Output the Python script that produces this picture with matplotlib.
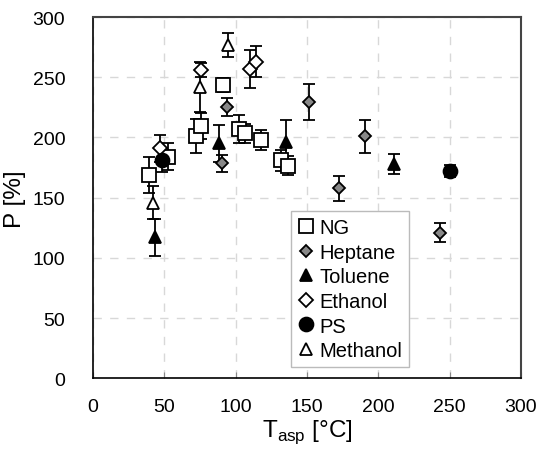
import matplotlib
matplotlib.use("Agg")

import matplotlib.pyplot as plt

plt.rcParams["font.family"] = ["Liberation Sans", "DejaVu Sans"]

# data
ng_x = [39.5, 52.3, 72.4, 75.7, 90.9, 102.5, 106.5, 117.7, 131.7, 136.4]
ng_y = [169, 184, 201, 209.7, 243.6, 207, 203.4, 197.8, 181, 176.5]
ng_err = [15, 11, 14, 11, 6, 12, 8, 8, 9, 8]

hep_x = [90.2, 93.9, 151.6, 172.2, 190.8, 243.2]
hep_y = [178.7, 225, 229.7, 157.7, 200.9, 121]
hep_err = [7, 7.5, 15, 10.5, 13.5, 8]

tol_x = [43.7, 88.5, 135.2, 210.7]
tol_y = [117, 195, 196.5, 178]
tol_err = [15, 15, 18, 8]

eth_x = [47, 75.7, 110.2, 114.2]
eth_y = [191, 256, 256.9, 263]
eth_err = [11, 6, 16, 13]

ps_x = [48.4, 250.4]
ps_y = [181.5, 171.8]
ps_err = [10, 5]

meth_x = [41.8, 75.3, 94.4]
meth_y = [146, 242, 276.8]
meth_err = [14, 21, 10]

series = [
    ("NG", ng_x, ng_y, ng_err, dict(marker="s", ms=9.5, mfc="white", mec="black")),
    ("Heptane", hep_x, hep_y, hep_err, dict(marker="D", ms=6.5, mfc="#888888", mec="black")),
    ("Toluene", tol_x, tol_y, tol_err, dict(marker="^", ms=8.5, mfc="black", mec="black")),
    ("Ethanol", eth_x, eth_y, eth_err, dict(marker="D", ms=7.5, mfc="white", mec="black")),
    ("PS", ps_x, ps_y, ps_err, dict(marker="o", ms=10, mfc="black", mec="black")),
    ("Methanol", meth_x, meth_y, meth_err, dict(marker="^", ms=9, mfc="white", mec="black")),
]

fig = plt.figure(figsize=(5.36, 4.56), dpi=100)
ax = fig.add_axes([0.1735, 0.168, 0.7985, 0.7925])

for label, x, y, err, style in series:
    ax.errorbar(x, y, yerr=err, ls="none", ecolor="black", elinewidth=1.3,
                capsize=4.5, capthick=1.3, mew=1.3, label=label, **style)

ax.set_xlim(0, 300)
ax.set_ylim(0, 300)
ax.set_xticks(range(0, 301, 50))
ax.set_yticks(range(0, 301, 50))
ax.grid(True, color="#d8d8d8", ls=(0, (6, 6)), lw=1)
ax.set_axisbelow(True)
ax.tick_params(direction="in", length=4, labelsize=14, pad=14, color="#888888")
ax.tick_params(axis="y", length=0, pad=20)

for s in ["top", "right"]:
    ax.spines[s].set_color("#444444")
    ax.spines[s].set_linewidth(1.5)
for s in ["left", "bottom"]:
    ax.spines[s].set_color("black")
    ax.spines[s].set_linewidth(1.2)

ax.set_xlabel("T$_\\mathregular{asp}$ [°C]", fontsize=17.5, labelpad=2)
ax.set_ylabel("P [%]", fontsize=17.5, labelpad=5)

handles, labels = ax.get_legend_handles_labels()
handles = [h[0] for h in handles]
leg = ax.legend(handles, labels, loc="lower left", bbox_to_anchor=(0.4626, 0.031),
                fontsize=14.5, frameon=True, fancybox=False, framealpha=1,
                edgecolor="#bbbbbb", handlelength=0.8, handletextpad=0.25,
                labelspacing=0.28, borderpad=0.35, borderaxespad=0)
leg.get_frame().set_linewidth(1)

fig.savefig("out.png", dpi=100)
plt.close(fig)
